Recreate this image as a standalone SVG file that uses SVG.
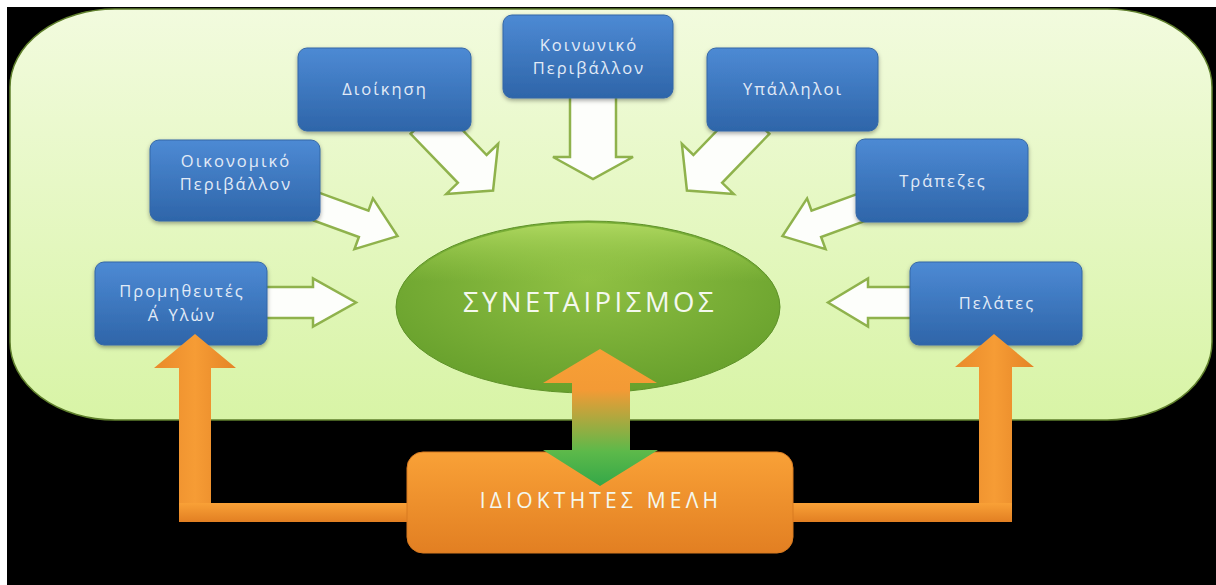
<svg xmlns="http://www.w3.org/2000/svg" width="1216" height="585" viewBox="0 0 1216 585">
<style>
.blue rect{fill:url(#gBlue);stroke:#3467a6;stroke-width:1;filter:url(#sh)}
.blue text{font-family:"Open Sans","Noto Sans",sans-serif;font-size:16.5px;fill:#e2ebf7;text-anchor:middle;letter-spacing:2px}
.wa{fill:#fdfefb;stroke:#8fb24c;stroke-width:2.5;stroke-linejoin:miter}
.big{font-family:"Open Sans","Noto Sans",sans-serif;text-anchor:middle;fill:#f4f8ee}
</style>
<defs>
<linearGradient id="gBg" x1="0" y1="0" x2="0" y2="1"><stop offset="0" stop-color="#f2fbde"/><stop offset="1" stop-color="#d8f4a6"/></linearGradient>
<linearGradient id="gBlue" x1="0" y1="0" x2="0" y2="1"><stop offset="0" stop-color="#4d8ad4"/><stop offset="1" stop-color="#2e65a9"/></linearGradient>
<radialGradient id="gEll" cx="0.5" cy="0.35" r="0.65"><stop offset="0" stop-color="#8fc043"/><stop offset="1" stop-color="#67a02c"/></radialGradient>
<linearGradient id="gEllTop" x1="0" y1="0" x2="0" y2="1"><stop offset="0" stop-color="#b4dc64" stop-opacity="0.9"/><stop offset="0.35" stop-color="#9ccd4c" stop-opacity="0"/></linearGradient>
<linearGradient id="gOr" x1="0" y1="0" x2="0" y2="1"><stop offset="0" stop-color="#f9a137"/><stop offset="1" stop-color="#e27f22"/></linearGradient>
<linearGradient id="gOrV" x1="0" y1="0" x2="1" y2="0"><stop offset="0" stop-color="#e98a2a"/><stop offset="0.5" stop-color="#f69c35"/><stop offset="1" stop-color="#e48426"/></linearGradient>
<linearGradient id="gDbl" x1="0" y1="349" x2="0" y2="486" gradientUnits="userSpaceOnUse"><stop offset="0" stop-color="#f8a036"/><stop offset="0.3" stop-color="#f39a35"/><stop offset="0.75" stop-color="#5cb94a"/><stop offset="1" stop-color="#34a848"/></linearGradient>
<filter id="sh" x="-10%" y="-10%" width="120%" height="130%"><feDropShadow dx="0" dy="2" stdDeviation="2" flood-color="#000" flood-opacity="0.35"/></filter>
</defs>
<rect x="0" y="0" width="1216" height="585" fill="#ffffff"/>
<rect x="7" y="7" width="1209" height="578" fill="#000000"/>
<rect id="background" x="10" y="9" width="1202" height="411" rx="105" ry="78" fill="url(#gBg)" stroke="#5f7f2c" stroke-width="1.5"/>
<g id="connectors">
<polygon class="wa" transform="translate(262,302.5)" points="0,-15.5 51,-15.5 51,-24 94,0 51,24 51,15.5 0,15.5"/>
<polygon class="wa" transform="translate(915,302.5) rotate(180)" points="0,-15.5 47,-15.5 47,-24 87,0 47,24 47,15.5 0,15.5"/>
<polygon class="wa" transform="translate(312,205) rotate(20)" points="0,-14 55,-14 55,-27 91,0 55,27 55,14 0,14"/>
<polygon class="wa" transform="translate(868,205) rotate(160)" points="0,-14 55,-14 55,-27 91,0 55,27 55,14 0,14"/>
<polygon class="wa" transform="translate(425,120) rotate(46)" points="0,-20 68,-20 68,-36 98,0 68,36 68,20 0,20"/>
<polygon class="wa" transform="translate(755,120) rotate(134)" points="0,-20 68,-20 68,-36 98,0 68,36 68,20 0,20"/>
<polygon class="wa" transform="translate(593,90) rotate(90)" points="0,-23 67,-23 67,-40 89,0 67,40 67,23 0,23"/>
</g>
<g id="n-oikonomiko" class="blue"><rect x="150" y="140" width="170" height="81" rx="9"/><text x="236" y="167">Οικονομικό</text><text x="236" y="190">Περιβάλλον</text></g>
<g id="n-dioikisi" class="blue"><rect x="298" y="48" width="173" height="83" rx="9"/><text x="385" y="95">Διοίκηση</text></g>
<g id="n-koinoniko" class="blue"><rect x="503" y="15" width="170" height="83" rx="9"/><text x="589" y="51">Κοινωνικό</text><text x="589" y="74">Περιβάλλον</text></g>
<g id="n-ypalliloi" class="blue"><rect x="707" y="48" width="171" height="83" rx="9"/><text x="793" y="95">Υπάλληλοι</text></g>
<g id="n-trapezes" class="blue"><rect x="856" y="139" width="172" height="83" rx="9"/><text x="943" y="187">Τράπεζες</text></g>
<g id="n-promitheftes" class="blue"><rect x="95" y="262" width="172" height="83" rx="9"/><text x="182" y="297">Προμηθευτές</text><text x="182" y="321">Α΄ Υλών</text></g>
<g id="n-pelates" class="blue"><rect x="910" y="262" width="172" height="83" rx="9"/><text x="997" y="309">Πελάτες</text></g>
<g id="n-synetairismos"><ellipse cx="588" cy="307" rx="192" ry="86" fill="url(#gEll)" stroke="#5e9228" stroke-width="1"/><ellipse cx="588" cy="307" rx="190" ry="84" fill="url(#gEllTop)"/><text class="big" x="590" y="312" font-size="27.5" letter-spacing="3.5">ΣΥΝΕΤΑΙΡΙΣΜΟΣ</text></g>
<g id="orange-arrows">
<polygon fill="url(#gOrV)" points="195,334 236,368 211,368 211,522 179,522 179,368 154,368"/>
<rect x="179" y="503" width="232" height="19" fill="url(#gOr)"/>
<polygon fill="url(#gOrV)" points="994,334 1034,367 1012,367 1012,522 979,522 979,367 955,367"/>
<rect x="790" y="503" width="222" height="19" fill="url(#gOr)"/>
</g>
<g id="n-idioktites"><rect x="407" y="452" width="386" height="101" rx="16" fill="url(#gOr)" stroke="#d87a20" stroke-width="1"/><text class="big" x="601" y="508" font-size="21" letter-spacing="4.2" fill="#fff8ef">ΙΔΙΟΚΤΗΤΕΣ ΜΕΛΗ</text></g>
<g id="double-arrow"><polygon fill="url(#gDbl)" points="600,349 657,383 630,383 630,450 658,450 600,486 543,450 572,450 572,383 543,383"/></g>
</svg>
